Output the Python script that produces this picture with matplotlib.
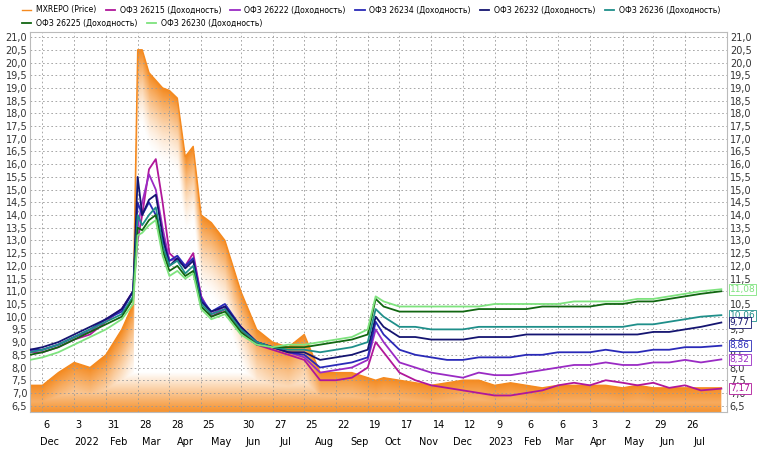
import numpy as np
import pandas as pd
import matplotlib
matplotlib.use('Agg')
import matplotlib.pyplot as plt
import matplotlib.dates as mdates
from matplotlib.patches import Polygon

dates = pd.to_datetime([
    '2021-11-25', '2021-12-06', '2021-12-20', '2022-01-03', '2022-01-17', '2022-01-31',
    '2022-02-14', '2022-02-24', '2022-02-28', '2022-03-04', '2022-03-10', '2022-03-16',
    '2022-03-22', '2022-03-28', '2022-04-04', '2022-04-11', '2022-04-18', '2022-04-25',
    '2022-05-04', '2022-05-16', '2022-05-30', '2022-06-13', '2022-06-27', '2022-07-11',
    '2022-07-25', '2022-08-08', '2022-08-22', '2022-09-05', '2022-09-19', '2022-09-26',
    '2022-10-03', '2022-10-17', '2022-10-31', '2022-11-14', '2022-11-28', '2022-12-12',
    '2022-12-26', '2023-01-09', '2023-01-23', '2023-02-06', '2023-02-20', '2023-03-06',
    '2023-03-20', '2023-04-03', '2023-04-17', '2023-05-02', '2023-05-15', '2023-05-29',
    '2023-06-12', '2023-06-26', '2023-07-10', '2023-07-28'])

mxrepo = [7.3, 7.3, 7.8, 8.2, 8.0, 8.5, 9.5, 10.5, 20.5, 20.5, 19.6, 19.3, 19.0, 18.9, 18.6, 16.3,
          16.7, 14.0, 13.7, 13.0, 11.0, 9.5, 9.0, 8.8, 9.3, 7.8, 7.8, 7.8, 7.6, 7.5, 7.6, 7.5,
          7.4, 7.3, 7.4, 7.5, 7.5, 7.3, 7.4, 7.3, 7.2, 7.3, 7.3, 7.3, 7.3, 7.2, 7.3, 7.2, 7.2,
          7.2, 7.2, 7.2]
ofz_26215 = [8.6, 8.6, 8.8, 9.1, 9.3, 9.8, 10.3, 11.0, 13.0, 14.0, 15.8, 16.2, 14.5, 12.5, 12.2, 12.0,
             12.5, 10.8, 10.0, 10.3, 9.5, 8.9, 8.7, 8.5, 8.3, 7.5, 7.5, 7.6, 8.0, 9.0, 8.6, 7.8,
             7.5, 7.3, 7.2, 7.1, 7.0, 6.9, 6.9, 7.0, 7.1, 7.3, 7.4, 7.3, 7.5, 7.4, 7.3, 7.4, 7.2,
             7.3, 7.1, 7.17]
ofz_26222 = [8.7, 8.7, 8.9, 9.2, 9.4, 9.9, 10.3, 11.0, 13.5, 14.5, 15.6, 15.0, 13.5, 12.2, 12.3, 12.0,
             12.3, 10.8, 10.1, 10.4, 9.6, 9.0, 8.8, 8.6, 8.4, 7.8, 7.9, 8.0, 8.3, 9.5, 9.0, 8.2,
             8.0, 7.8, 7.7, 7.6, 7.8, 7.7, 7.7, 7.8, 7.9, 8.0, 8.1, 8.1, 8.2, 8.1, 8.1, 8.2, 8.2,
             8.3, 8.2, 8.32]
ofz_26234 = [8.7, 8.7, 8.9, 9.2, 9.5, 9.9, 10.2, 11.0, 14.5, 14.0, 14.5, 14.0, 13.0, 12.2, 12.4, 12.0,
             12.3, 10.7, 10.2, 10.5, 9.6, 9.0, 8.8, 8.6, 8.5, 8.0, 8.1, 8.2, 8.4, 9.8, 9.3, 8.7,
             8.5, 8.4, 8.3, 8.3, 8.4, 8.4, 8.4, 8.5, 8.5, 8.6, 8.6, 8.6, 8.7, 8.6, 8.6, 8.7, 8.7,
             8.8, 8.8, 8.86]
ofz_26232 = [8.7, 8.8, 9.0, 9.3, 9.6, 9.9, 10.3, 11.0, 15.5, 14.0, 14.6, 14.8, 13.2, 12.0, 12.3, 11.9,
             12.2, 10.6, 10.2, 10.4, 9.6, 9.0, 8.8, 8.6, 8.6, 8.3, 8.4, 8.5, 8.7, 10.0, 9.6, 9.2,
             9.2, 9.1, 9.1, 9.1, 9.2, 9.2, 9.2, 9.3, 9.3, 9.3, 9.3, 9.3, 9.3, 9.3, 9.3, 9.4, 9.4,
             9.5, 9.6, 9.77]
ofz_26236 = [8.6, 8.7, 8.9, 9.2, 9.5, 9.8, 10.1, 10.8, 14.0, 13.6, 14.0, 14.3, 12.8, 12.0, 12.2, 11.7,
             12.0, 10.5, 10.1, 10.3, 9.5, 9.0, 8.8, 8.7, 8.7, 8.6, 8.7, 8.8, 9.0, 10.3, 10.0, 9.6,
             9.6, 9.5, 9.5, 9.5, 9.6, 9.6, 9.6, 9.6, 9.6, 9.6, 9.6, 9.6, 9.6, 9.6, 9.7, 9.7, 9.8,
             9.9, 10.0, 10.06]
ofz_26225 = [8.5, 8.6, 8.8, 9.1, 9.4, 9.7, 10.0, 10.7, 13.5, 13.4, 13.8, 14.0, 12.6, 11.8, 12.0, 11.6,
             11.8, 10.4, 10.0, 10.2, 9.4, 8.9, 8.8, 8.8, 8.8, 8.9, 9.0, 9.1, 9.3, 10.7, 10.4, 10.2,
             10.2, 10.2, 10.2, 10.2, 10.3, 10.3, 10.3, 10.3, 10.4, 10.4, 10.4, 10.4, 10.5, 10.5, 10.6,
             10.6, 10.7, 10.8, 10.9, 11.0]
ofz_26230 = [8.3, 8.4, 8.6, 8.9, 9.2, 9.5, 9.9, 10.5, 13.2, 13.3, 13.6, 13.8, 12.4, 11.6, 11.8, 11.5,
             11.7, 10.3, 9.9, 10.1, 9.3, 8.9, 8.8, 8.9, 8.9, 9.0, 9.1, 9.2, 9.5, 10.8, 10.6, 10.4,
             10.4, 10.4, 10.4, 10.4, 10.4, 10.5, 10.5, 10.5, 10.5, 10.5, 10.6, 10.6, 10.6, 10.6, 10.7,
             10.7, 10.8, 10.9, 11.0, 11.08]

tick_dates = pd.to_datetime([
    '2021-12-06', '2022-01-03', '2022-01-31', '2022-02-28', '2022-03-28', '2022-04-25',
    '2022-05-30', '2022-06-27', '2022-07-25', '2022-08-22', '2022-09-19', '2022-10-17',
    '2022-11-14', '2022-12-12', '2023-01-09', '2023-02-06', '2023-03-06', '2023-04-03',
    '2023-05-02', '2023-05-29', '2023-06-26'])
tick_days = ['6', '3', '31', '28', '28', '25', '30', '27', '25', '22', '19', '17', '14', '12',
             '9', '6', '6', '3', '2', '29', '26']
month_dates = pd.date_range('2021-12-01', '2023-07-01', freq='MS')
month_labels = ['Dec', '2022', 'Feb', 'Mar', 'Apr', 'May', 'Jun', 'Jul', 'Aug', 'Sep', 'Oct',
                'Nov', 'Dec', '2023', 'Feb', 'Mar', 'Apr', 'May', 'Jun', 'Jul']

series = [
    ('ОФЗ 26215 (Доходность)', ofz_26215, '#b0179a'),
    ('ОФЗ 26222 (Доходность)', ofz_26222, '#9a2bc4'),
    ('ОФЗ 26234 (Доходность)', ofz_26234, '#2a2ab8'),
    ('ОФЗ 26232 (Доходность)', ofz_26232, '#141470'),
    ('ОФЗ 26236 (Доходность)', ofz_26236, '#1f8f8a'),
    ('ОФЗ 26225 (Доходность)', ofz_26225, '#116611'),
    ('ОФЗ 26230 (Доходность)', ofz_26230, '#7ee37e'),
]
orange = '#f58a1f'
plt.rcParams['font.family'] = ['DejaVu Sans']
fig = plt.figure(figsize=(7.58, 4.54), dpi=100)
ax = fig.add_axes([30 / 758, 1 - 412 / 454, 697 / 758, 380 / 454])

xnum = mdates.date2num(dates)
ymin, ymax = 6.25, 21.2
# gradient area under MXREPO
xs = np.linspace(xnum[0], xnum[-1], 600)
line_y = np.interp(xs, xnum, mxrepo)
ys = np.linspace(ymin, ymax, 400)
depth = line_y[None, :] - ys[:, None]
alpha = np.clip(1 - depth / 3.0, 0.0, 1.0) ** 1.5
alpha = np.maximum(alpha, np.clip((7.8 - ys[:, None]) / 1.5, 0, 1) * 0.9)
img = np.zeros((len(ys), len(xs), 4))
img[..., 0], img[..., 1], img[..., 2] = 0.96, 0.54, 0.12
img[..., 3] = alpha
im = ax.imshow(img, extent=[xs[0], xs[-1], ymin, ymax], origin='lower', aspect='auto', zorder=1)
poly = Polygon(np.column_stack([np.r_[xnum, xnum[-1], xnum[0]], np.r_[mxrepo, ymin, ymin]]),
               closed=True, transform=ax.transData)
im.set_clip_path(poly)
handles = ax.plot(dates, mxrepo, color=orange, lw=1, label='MXREPO (Price)', zorder=2)

for name, vals, col in series:
    handles += ax.plot(dates, vals, color=col, lw=1.3, label=name, zorder=3)

ax.set_xlim(mdates.date2num(pd.Timestamp('2021-11-25')), mdates.date2num(pd.Timestamp('2023-08-02')))
ax.set_ylim(ymin, ymax)
yt = np.arange(6.5, 21.01, 0.5)
ax.set_yticks(yt)
ax.set_yticklabels([f'{v:.1f}'.replace('.', ',') for v in yt], fontsize=7)
ax.tick_params(axis='y', which='both', length=0, labelright=True, pad=2, colors='#333333')
ax.grid(True, linestyle=(0, (2, 3)), color='#999999', lw=0.6)
ax.set_xticks(tick_dates)
ax.set_xticklabels([])
ax.tick_params(axis='x', length=0)
for d, dl in zip(tick_dates, tick_days):
    ax.annotate(dl, (d, 0), xycoords=('data', 'axes fraction'), xytext=(1, -6),
                textcoords='offset points', fontsize=7, va='top', ha='left')
for d, ml in zip(month_dates, month_labels):
    ax.annotate(ml, (d, 0), xycoords=('data', 'axes fraction'), xytext=(2, -18),
                textcoords='offset points', fontsize=7, va='top', ha='left')
for s in ax.spines.values():
    s.set_color('#bbbbbb')

# right-side last value labels
ends = [(11.08, '#7ee37e', '11,08'), (10.06, '#1f8f8a', '10,06'), (9.77, '#141470', '9,77'),
        (8.86, '#2a2ab8', '8,86'), (8.32, '#9a2bc4', '8,32'), (7.17, '#b0179a', '7,17')]
for v, c, t in ends:
    ax.annotate(t, (1, v), xycoords=('axes fraction', 'data'), xytext=(2, 0),
                textcoords='offset points', fontsize=6.5, va='center', color=c, zorder=10,
                bbox=dict(boxstyle='square,pad=0.1', fc='white', ec=c, lw=0.6))

leg_kw = dict(loc='upper left', prop={'size': 5.6}, frameon=False, handlelength=1.2,
              columnspacing=1.2, handletextpad=0.6, borderaxespad=0)
fig.legend(handles=handles[:6], ncol=6, bbox_to_anchor=(0.025, 0.995), **leg_kw)
fig.legend(handles=handles[6:], ncol=2, bbox_to_anchor=(0.025, 0.965), **leg_kw)
fig.savefig('out.png', dpi=100)
